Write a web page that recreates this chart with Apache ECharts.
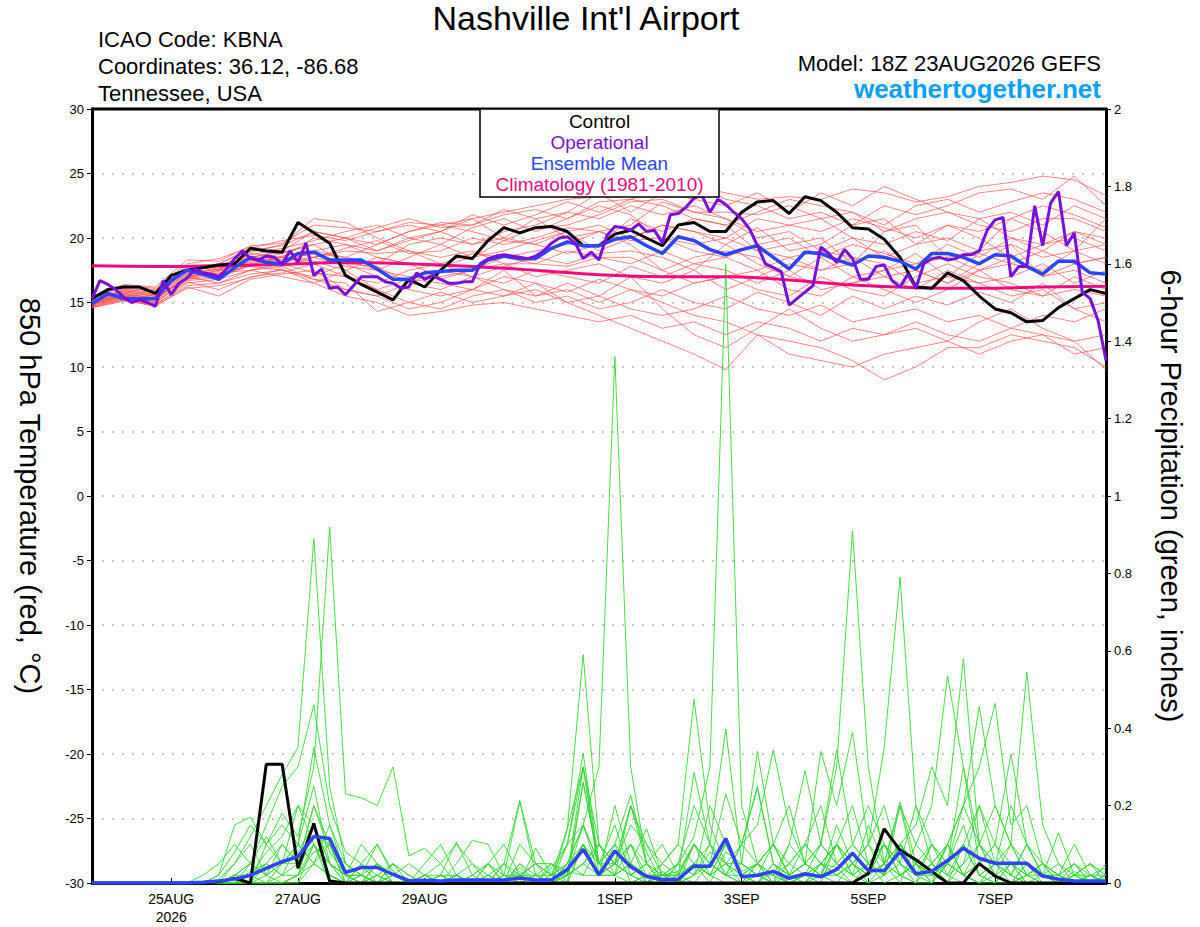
<!DOCTYPE html>
<html><head><meta charset="utf-8">
<script src="https://cdn.jsdelivr.net/npm/echarts@6/dist/echarts.min.js"></script>
<style>html,body{margin:0;padding:0;background:#fff}#c{width:1200px;height:927px}</style>
</head><body><div id="c"></div>
<script>
// x axis: forecast hour from 18Z 23AUG2026
const tickHours = [30, 78, 126, 198, 246, 294, 342];
const tickLabels = ['25AUG\n2026', '27AUG', '29AUG', '1SEP', '3SEP', '5SEP', '7SEP'];

// 850 hPa temperature (C), 6-hourly, h0 then one row per day
const controlTemp = [15.3,
 16.0,16.2,16.2,15.7, 17.1,17.5,17.7,17.9, 18.0,19.2,19.0,18.9, 21.2,20.4,19.6,17.1,
 16.4,15.8,15.2,16.8, 16.2,17.5,18.6,18.4, 19.8,20.8,20.4,20.8, 20.9,20.5,19.4,19.4,
 20.3,20.6,20.0,19.4, 21.0,21.2,20.5,20.5, 22.0,22.8,22.9,21.9, 23.2,22.9,22.0,20.8,
 20.7,19.9,18.5,16.2, 16.1,17.3,16.7,15.5, 14.5,14.2,13.5,13.6, 14.6,15.3,16.0,15.7];
const meanTemp = [14.9,
 15.7,15.3,15.3,15.3, 16.7,17.5,17.2,16.8, 17.7,18.5,18.1,18.0, 18.8,18.9,18.3,18.3,
 18.3,17.6,16.8,16.8, 17.3,17.4,17.5,17.5, 18.3,18.6,18.4,18.4, 19.2,19.7,19.4,19.4,
 19.9,20.1,19.4,18.8, 20.1,19.8,19.1,18.7, 19.1,19.4,18.5,17.6, 18.9,18.8,18.3,17.9,
 18.6,18.5,18.2,17.6, 18.8,18.8,18.5,18.0, 18.7,18.6,17.8,17.2, 18.2,18.2,17.3,17.2];
// operational, 3-hourly
const operationalTemp = [15.3,
 16.7,16.4,16.0,15.4,15.0,15.2,15.0,14.7,
 16.7,15.6,16.5,16.9,17.6,17.3,17.2,17.0,
 17.6,18.4,19.0,18.4,18.3,18.6,18.5,18.0,
 19.0,18.1,19.6,17.1,17.6,16.1,16.2,15.6,
 16.3,17.0,17.0,17.0,16.6,16.5,16.1,16.2,
 17.3,16.8,17.1,16.8,16.5,16.5,16.6,16.6,
 18.0,18.4,18.6,18.7,18.6,18.5,18.4,18.6,
 19.0,19.6,20.0,20.1,19.6,18.4,18.9,18.3,
 20.2,20.9,20.8,20.6,21.1,20.5,20.6,19.6,
 21.8,21.9,22.4,23.1,23.3,22.0,23.0,22.6,
 22.0,21.5,20.7,19.4,18.0,17.7,17.4,14.8,
 15.3,15.8,16.3,19.3,18.8,18.1,19.1,18.4,
 16.8,16.8,17.8,17.9,16.7,16.2,17.2,16.1,
 18.0,18.4,18.5,18.3,18.4,18.7,18.7,19.0,
 20.6,21.4,21.6,17.0,17.8,17.8,22.5,19.4,
 22.7,23.6,19.4,20.4,15.8,15.3,13.6,10.5];
// climatology, daily
const climTemp = [17.85,17.8,17.85,17.95,18.1,18.0,17.8,17.5,17.15,17.0,17.0,16.75,16.35,16.15,16.1,16.2,16.25];
// ensemble members, 12-hourly
const memberTemp = [
 [15.3,16.4,16.2,18.3,18.2,19.4,19.6,21.0,20.8,20.5,21.2,21.0,21.5,22.0,22.5,23.0,23.2,23.5,24.2,24.0,23.5,23.0,23.2,23.0,23.8,23.5,22.8,23.2,24.0,24.3,24.8,24.5,23.3],
 [15.0,16.0,15.8,17.8,18.0,19.0,19.4,20.5,20.0,19.5,20.5,21.2,21.0,21.8,22.2,21.5,22.8,23.0,23.8,24.3,23.0,22.5,21.5,22.0,21.0,22.5,21.8,22.5,23.5,23.8,23.0,24.8,22.5],
 [14.8,15.6,15.2,17.0,17.5,18.3,18.0,19.0,18.5,18.0,19.5,20.0,19.5,20.5,21.0,22.0,21.5,22.5,21.8,22.5,21.5,20.5,21.0,20.5,21.5,20.8,20.0,21.0,20.5,21.5,22.5,21.8,20.8],
 [15.2,15.8,15.5,17.5,17.8,18.5,19.0,18.5,19.2,19.8,18.8,19.0,20.0,19.5,20.0,20.8,20.5,21.0,22.8,22.0,22.0,21.8,22.5,21.5,20.0,19.5,20.5,19.8,21.5,20.0,19.5,20.5,20.0],
 [15.0,15.5,15.0,16.8,17.0,18.0,18.5,18.0,18.3,17.5,18.5,19.5,18.5,19.0,19.8,20.5,19.0,20.0,21.0,20.5,19.5,20.8,19.0,19.5,21.0,21.5,19.5,20.0,19.0,21.5,20.5,19.0,21.5],
 [14.7,15.3,14.8,16.5,16.8,17.5,18.0,17.3,17.0,16.5,17.5,18.0,18.8,18.5,19.0,19.5,20.5,19.8,20.0,19.0,18.5,19.5,20.0,18.5,19.5,18.8,18.0,19.5,18.5,20.0,19.0,20.5,19.5],
 [15.5,16.2,16.0,17.8,17.5,18.8,18.5,20.0,19.5,18.5,18.0,17.8,18.5,19.8,19.5,18.8,19.5,21.5,20.5,21.5,21.0,19.0,18.5,17.5,18.0,20.5,21.0,18.5,17.5,18.0,19.0,18.0,18.5],
 [14.9,15.4,15.3,16.8,17.2,17.8,17.5,17.0,18.0,17.8,16.5,17.5,17.0,17.8,18.5,18.0,18.8,19.0,18.5,17.5,19.5,18.0,17.0,18.5,17.0,17.5,18.8,17.0,18.8,18.0,17.5,19.0,18.0],
 [15.1,15.9,15.6,17.3,17.6,18.7,19.2,19.8,20.5,21.0,20.0,19.5,20.8,21.5,20.5,21.5,22.5,21.8,20.0,19.5,20.0,19.0,19.5,20.0,18.0,19.0,17.5,16.5,18.0,19.5,17.0,17.5,16.5],
 [14.6,15.2,14.9,16.3,16.5,17.2,17.5,16.8,16.0,15.5,16.5,16.0,17.0,16.5,17.5,17.0,16.5,17.8,17.0,18.0,17.5,16.5,17.5,16.0,16.5,17.0,16.0,17.5,16.5,17.0,18.0,16.5,17.5],
 [15.0,15.6,15.4,17.0,17.4,18.2,18.8,19.5,18.0,17.0,16.0,15.5,16.0,17.0,16.5,15.8,16.8,16.0,15.5,16.5,17.0,17.5,16.0,15.5,17.0,16.0,15.0,16.0,17.5,16.0,15.5,17.0,16.0],
 [14.8,15.3,15.0,16.6,16.0,17.0,17.3,18.0,17.0,16.0,15.0,14.5,15.5,16.0,15.0,15.5,14.5,15.0,16.0,15.0,14.5,15.8,15.0,14.0,15.5,14.5,15.5,14.8,15.8,15.0,16.5,14.5,15.0],
 [15.2,15.7,15.5,17.2,17.0,18.0,17.8,16.8,16.5,14.3,15.0,15.8,15.0,15.5,16.0,15.0,15.5,14.5,14.0,14.5,15.5,14.5,14.0,14.8,13.5,14.0,14.5,13.5,14.0,13.0,14.0,13.5,14.5],
 [14.9,15.5,15.2,16.9,17.3,17.5,17.0,16.5,15.5,15.0,14.0,14.3,14.8,15.0,14.5,14.0,13.5,14.0,13.0,13.5,12.5,13.5,13.0,12.0,13.0,12.5,13.5,12.5,12.0,13.0,12.5,12.0,12.5],
 [15.1,16.0,15.8,17.6,17.8,18.9,19.5,21.5,21.2,20.0,19.0,18.0,17.0,16.0,15.5,16.0,15.0,16.0,15.0,14.0,13.5,12.5,11.0,10.5,10.0,11.0,11.5,12.0,11.0,12.0,12.5,11.0,11.5],
 [14.7,15.2,14.7,16.2,15.5,16.8,17.2,17.5,16.0,15.5,14.5,15.0,16.0,15.5,16.5,15.0,14.0,13.0,12.0,11.0,9.8,12.5,12.0,11.5,10.5,9.0,10.0,11.5,11.5,12.5,12.0,11.5,10.0],
 [15.3,16.1,15.9,17.5,18.0,19.2,19.8,20.2,19.8,20.5,21.0,20.5,21.8,21.0,21.8,22.8,22.0,23.0,22.5,21.5,21.0,22.0,23.0,22.5,22.0,21.0,22.5,23.0,22.0,22.8,23.5,23.0,22.0],
 [15.0,15.7,15.3,17.1,17.6,18.4,18.2,18.5,19.0,18.8,19.0,18.5,19.0,18.0,18.0,19.0,18.5,18.0,19.0,18.0,18.5,17.5,18.5,19.0,20.0,18.5,19.5,21.0,20.0,18.5,19.5,20.0,19.0],
 [14.8,15.4,15.1,16.7,16.9,17.9,18.6,19.0,19.5,19.0,19.8,20.5,19.5,20.0,21.5,20.0,20.5,19.5,17.5,16.5,17.0,16.0,15.5,17.0,16.0,15.5,17.0,18.0,17.0,16.5,15.5,16.0,15.5],
 [15.2,15.9,15.7,17.4,17.2,18.6,18.3,18.8,18.5,19.5,20.5,21.0,20.5,19.8,20.8,21.0,21.8,22.8,23.0,22.0,21.5,20.0,20.5,19.0,18.5,18.0,16.5,17.0,16.5,15.5,16.0,14.5,13.5],
 [14.9,15.5,15.3,16.9,17.5,18.1,18.5,18.2,17.5,18.5,18.0,17.0,17.5,18.0,17.0,17.5,18.0,17.0,16.5,17.5,16.0,17.0,18.0,17.5,18.5,17.0,17.5,16.5,17.5,18.5,17.0,18.0,18.5],
 [15.4,16.3,16.1,18.0,18.4,19.3,19.0,20.5,20.0,20.8,21.5,20.8,21.0,22.2,21.5,22.0,23.5,22.0,23.5,23.0,22.5,23.5,22.0,23.5,22.5,24.0,23.0,22.0,21.5,22.0,21.0,22.5,21.5],
 [14.6,15.1,14.8,16.1,16.3,16.9,17.6,16.5,17.5,16.0,16.8,16.5,16.0,17.5,15.5,16.5,15.5,17.0,14.5,12.5,11.5,13.0,14.5,13.0,12.0,12.5,13.0,12.0,13.5,14.5,13.0,12.0,9.8],
 [15.0,15.8,15.6,17.2,17.7,18.5,18.9,19.5,20.0,19.0,20.0,20.5,21.5,20.0,19.5,20.5,21.0,20.0,21.0,20.5,20.0,21.5,21.0,21.5,22.0,20.5,21.5,22.0,21.0,20.5,21.5,21.5,20.5],
 [15.1,15.6,15.4,17.0,16.5,17.5,17.8,18.5,17.8,17.5,17.0,16.8,17.5,18.5,18.0,17.8,18.5,18.5,17.5,18.5,19.0,18.5,17.0,16.5,16.5,17.5,18.0,18.5,19.0,19.5,18.5,19.0,19.5]
];

// 6-hour precipitation (inches), 6-hourly, h0 then one row per day
const controlPrecip = [0,
 0,0,0,0, 0,0,0,0.003, 0.012,0,0.307,0.307, 0.038,0.154,0.005,0,
 0,0,0,0, 0,0,0,0, 0,0,0,0, 0,0,0,0,
 0,0,0,0, 0,0,0,0, 0,0,0,0, 0,0,0,0,
 0.025,0.14,0.085,0.06, 0.03,0,0,0.05, 0.018,0,0,0, 0,0,0,0];
const meanPrecip = [0,
 0,0,0,0, 0,0,0.002,0.005, 0.01,0.02,0.038,0.055, 0.068,0.12,0.115,0.027,
 0.04,0.04,0.022,0.006, 0.007,0.005,0.008,0.008, 0.008,0.008,0.013,0.008, 0.008,0.035,0.087,0.021,
 0.083,0.042,0.017,0.009, 0.01,0.044,0.043,0.115, 0.016,0.02,0.03,0.012, 0.024,0.016,0.035,0.077,
 0.032,0.032,0.081,0.024, 0.03,0.058,0.09,0.064, 0.051,0.051,0.051,0.018, 0.01,0.005,0.005,0.005];
const memberPrecip = [
 [0, 0,0,0,0, 0,0,0,0.01, 0.05,0.12,0.2,0.28, 0.35,0.89,0.25,0.05, 0.02,0,0,0, 0,0,0,0, 0,0,0.05,0.02, 0,0.1,0.3,0.05, 0.02,0.2,0.05,0, 0,0.1,0.05,0.02, 0,0.05,0,0, 0.02,0,0.1,0.2, 0.05,0,0.02,0, 0.1,0.05,0.15,0.02, 0,0.05,0,0, 0,0,0,0],
 [0, 0,0,0,0, 0,0,0,0.02, 0.08,0.15,0.1,0.18, 0.12,0.3,0.92,0.23, 0.22,0.2,0.3,0.07, 0.09,0.05,0.1,0.05, 0,0.02,0,0, 0,0.02,0.05,0.1, 0.05,0.1,0,0.02, 0.03,0.1,0.02,0, 0,0.02,0,0.05, 0.1,0.05,0.04,0, 0.05,0.1,0.02,0.05, 0.02,0,0.05,0.1, 0.02,0,0.05,0.02, 0,0.03,0,0],
 [0, 0,0,0,0, 0,0,0.02,0.05, 0.1,0.05,0.15,0.25, 0.3,0.46,0.2,0.08, 0.05,0.1,0.03,0, 0,0,0.02,0, 0.05,0,0.03,0, 0,0.05,0.15,0.3, 1.36,0.3,0.05,0, 0,0.02,0.08,0.05, 0,0,0.03,0, 0,0.02,0,0.05, 0.1,0.2,0.05,0, 0,0.05,0.1,0.02, 0,0,0.02,0, 0,0,0,0],
 [0, 0,0,0,0, 0,0,0,0.02, 0.15,0.17,0.1,0.05, 0.1,0.35,0.15,0.02, 0,0.05,0.02,0, 0,0,0.02,0.05, 0.02,0,0.04,0, 0,0.03,0.1,0.02, 0.05,0.2,0.08,0, 0.05,0.12,0.3,1.6, 0.2,0.05,0.02,0, 0,0.05,0.1,0.02, 0,0.05,0,0.1, 0.05,0.02,0,0.05, 0.1,0.05,0,0, 0,0,0.02,0],
 [0, 0,0,0,0, 0,0,0,0, 0.02,0.05,0.02,0.1, 0.05,0.2,0.1,0, 0,0.02,0.05,0, 0.02,0,0,0, 0,0.05,0.02,0, 0,0.14,0.59,0.1, 0.02,0.05,0,0.03, 0,0.05,0.02,0.1, 0.03,0.05,0.1,0.02, 0.05,0.1,0.3,0.91, 0.3,0.05,0.1,0.02, 0,0.05,0.02,0, 0.02,0.1,0.05,0, 0,0,0,0],
 [0, 0,0,0,0, 0,0,0,0, 0,0.02,0.08,0.12, 0.2,0.15,0.05,0.02, 0.1,0.05,0,0, 0,0.02,0,0.02, 0,0,0.1,0.05, 0.02,0,0.26,0.05, 0.1,0.05,0.02,0, 0.02,0.05,0,0.08, 0.05,0.02,0,0.1, 0.05,0.02,0.15,0.05, 0.1,0.35,0.79,0.2, 0.05,0.1,0.02,0, 0.05,0,0.02,0.05, 0,0.02,0,0],
 [0, 0,0,0,0, 0,0,0,0, 0,0,0.05,0.02, 0.1,0.05,0.15,0.05, 0.02,0,0.05,0.02, 0,0.02,0,0.01, 0,0.05,0,0.02, 0.05,0.02,0.3,0.02, 0.05,0.15,0.1,0.05, 0.1,0.475,0.15,0.05, 0.02,0,0.05,0.02, 0.1,0.05,0.02,0.05, 0,0.02,0.1,0.15, 0.3,0.2,0.58,0.1, 0.05,0.2,0.1,0.02, 0,0.02,0.05,0],
 [0, 0,0,0,0, 0,0,0,0, 0.02,0.05,0.12,0.05, 0.1,0.25,0.05,0, 0.05,0,0.02,0.05, 0.02,0,0.02,0, 0.05,0.1,0.02,0.05, 0,0.05,0.15,0.02, 0.2,0.05,0.02,0, 0.05,0.2,0.1,0.02, 0,0.05,0.02,0.05, 0.1,0.2,0.05,0.1, 0.05,0.02,0.2,0.1, 0.2,0.535,0.3,0.1, 0.2,0.1,0.545,0.15, 0.05,0,0.02,0],
 [0, 0,0,0,0, 0,0,0,0, 0,0,0,0, 0,0.1,0.05,0, 0,0.02,0,0, 0.05,0.1,0.02,0, 0,0.02,0.21,0.05, 0.02,0.02,0.15,0.05, 0.15,0.02,0,0.05, 0.02,0.1,0.05,0.23, 0.1,0.25,0.05,0.02, 0.05,0.34,0.2,0.39, 0.1,0.02,0.05,0.2, 0.1,0.05,0.2,0.456, 0.2,0.1,0.02,0.05, 0.02,0,0,0],
 [0, 0,0,0,0, 0,0,0,0, 0,0.02,0,0.05, 0.08,0.15,0.02,0, 0.02,0,0,0, 0,0,0.05,0.11, 0.1,0.02,0,0.09, 0.02,0.05,0.1,0.02, 0.02,0.05,0.14,0.02, 0,0.05,0.1,0.02, 0.05,0.34,0.1,0.02, 0.02,0.05,0.1,0.02, 0.05,0.1,0.02,0.05, 0.02,0.1,0.2,0.3, 0.464,0.15,0.2,0.05, 0.02,0.05,0,0.05],
 [0, 0,0,0,0, 0,0,0,0, 0,0,0,0, 0.02,0.08,0.1,0, 0.05,0.02,0,0, 0.02,0.02,0,0, 0,0,0.02,0.05, 0.05,0.03,0.02,0.1, 0.05,0.02,0.05,0.02, 0.02,0.1,0.05,0.02, 0.1,0.05,0.02,0.1, 0.29,0.1,0.05,0.02, 0.15,0.05,0.21,0.05, 0.02,0.05,0.1,0.2, 0.1,0.333,0.1,0.02, 0.05,0.02,0.05,0.02],
 [0, 0,0,0,0, 0,0,0,0, 0,0,0.02,0.05, 0.05,0.1,0.05,0.02, 0,0.05,0,0, 0,0,0,0.02, 0.05,0,0,0.02, 0,0.02,0.05,0.1, 0.05,0.1,0.05,0.02, 0.05,0.02,0.1,0.05, 0.1,0.15,0.344,0.15, 0.05,0.1,0.344,0.1, 0.05,0.02,0.1,0.05, 0,0.05,0.02,0.1, 0.02,0,0.05,0.02, 0,0.05,0,0.02],
 [0, 0,0,0,0, 0,0,0,0, 0,0.03,0.05,0.02, 0.05,0.2,0.08,0.02, 0.02,0.05,0,0, 0,0,0.02,0, 0,0,0.05,0, 0.04,0.1,0.335,0.05, 0.1,0.227,0.05,0, 0.02,0,0.05,0.1, 0.02,0.05,0,0, 0,0.05,0.02,0, 0.02,0.05,0.1,0.02, 0.05,0.1,0.02,0, 0,0.05,0.02,0.05, 0.02,0,0,0.02],
 [0, 0,0,0,0, 0,0,0,0, 0.02,0,0.1,0.15, 0.1,0.05,0.02,0, 0,0.02,0,0, 0.02,0.05,0,0, 0,0,0.02,0, 0.02,0.14,0.3,0.1, 0.05,0.02,0,0.02, 0.02,0.285,0.1,0.398, 0.05,0.02,0.02,0, 0.02,0.02,0.05,0.1, 0.2,0.1,0.02,0.05, 0,0.1,0.02,0.05, 0.1,0.02,0,0, 0,0,0.02,0],
 [0, 0,0,0,0, 0,0,0,0, 0,0,0,0, 0.02,0.05,0.02,0, 0,0,0.02,0, 0,0.02,0.02,0, 0.02,0.05,0.213,0.02, 0,0.02,0.26,0.05, 0.02,0.1,0.02,0.05, 0.1,0.05,0.02,0.05, 0.02,0.05,0.1,0.02, 0,0.05,0.02,0.05, 0.1,0.05,0.2,0.02, 0.05,0.02,0.1,0.02, 0.05,0.02,0.1,0.05, 0.02,0,0.02,0],
 [0, 0,0,0,0, 0,0,0,0, 0,0,0,0.02, 0.02,0.1,0.02,0, 0.02,0,0,0, 0,0.02,0.106,0.02, 0.05,0.02,0,0, 0.05,0,0.1,0.02, 0.05,0.02,0.05,0.1, 0.02,0.1,0.05,0.02, 0.1,0.245,0.05,0.02, 0.05,0.02,0.1,0.05, 0.02,0.05,0.02,0.05, 0.1,0.02,0.05,0.2, 0.05,0.1,0.02,0, 0,0.02,0,0.02],
 [0, 0,0,0,0, 0,0,0,0, 0.05,0.1,0.02,0.05, 0.2,0.1,0,0, 0,0,0.05,0.02, 0,0,0,0, 0.02,0,0.02,0.05, 0.02,0.1,0.15,0.05, 0.05,0.2,0.1,0.02, 0.05,0.02,0.2,0.1, 0.02,0.05,0.1,0.2, 0.05,0.02,0.1,0.05, 0.02,0.1,0.05,0.02, 0.1,0.05,0.3,0.05, 0.02,0,0.02,0.05, 0,0.02,0.02,0],
 [0, 0,0,0,0, 0,0,0,0, 0.02,0.02,0.05,0.1, 0.05,0.12,0.1,0.05, 0.02,0.1,0.02,0, 0,0,0,0, 0.02,0,0,0, 0,0.02,0.05,0.02, 0.02,0.05,0.02,0.02, 0.02,0.05,0.02,0.05, 0.05,0.02,0.1,0.05, 0.02,0.1,0.05,0.02, 0.05,0.02,0.1,0.05, 0.02,0.1,0.2,0.1, 0.05,0.02,0.1,0.02, 0.13,0.02,0.05,0.02],
 [0, 0,0,0,0, 0,0,0,0, 0,0.05,0.02,0, 0.02,0.15,0.05,0.02, 0.02,0,0,0, 0,0,0,0, 0,0,0,0, 0,0,0.1,0.05, 0.02,0,0.02,0, 0,0.05,0.02,0.1, 0.02,0,0.05,0, 0.02,0.05,0.1,0.05, 0.02,0.05,0.02,0, 0.05,0,0.1,0.02, 0.05,0.02,0,0.02, 0.02,0.05,0.02,0.04],
 [0, 0,0,0,0, 0,0,0,0, 0,0,0,0, 0,0.05,0.1,0.02, 0,0.05,0.02,0, 0.02,0,0,0, 0,0.02,0.02,0.02, 0.02,0.05,0.02,0.02, 0.1,0,0.02,0.02, 0,0.02,0.05,0.02, 0.02,0.02,0,0.02, 0.05,0.02,0.02,0.05, 0.02,0.1,0.05,0.02, 0.02,0.05,0.02,0.05, 0.02,0.05,0.02,0.02, 0.02,0.1,0.02,0.02]
];

const COL = {control:'#000000', oper:'#7a0fdc', mean:'#2a44ff', clim:'#ee0a80', member:'#ff4a4a', precip:'#33d633', site:'#0aa0ff'};
const FONT = '"Liberation Sans", Arial, sans-serif';

function withHours(arr, step) { return arr.map((v, i) => [i * step, v]); }

const series = [];
memberTemp.forEach(m => series.push({type:'line', data: withHours(m, 12), yAxisIndex:0, symbol:'none', silent:true,
  lineStyle:{color:COL.member, width:0.8, opacity:0.85}, z:1}));
memberPrecip.forEach(m => series.push({type:'line', data: withHours(m, 6), yAxisIndex:1, symbol:'none', silent:true,
  lineStyle:{color:COL.precip, width:0.9}, z:2}));
series.push({type:'line', data: withHours(climTemp, 24), yAxisIndex:0, symbol:'none', smooth:0.4, lineStyle:{color:COL.clim, width:3}, z:3});
series.push({type:'line', data: withHours(controlTemp, 6), yAxisIndex:0, symbol:'none', lineStyle:{color:COL.control, width:3}, z:4});
series.push({type:'line', data: withHours(meanTemp, 6), yAxisIndex:0, symbol:'none', lineStyle:{color:COL.mean, width:3.5}, z:5});
series.push({type:'line', data: withHours(operationalTemp, 3), yAxisIndex:0, symbol:'none', lineStyle:{color:COL.oper, width:3}, z:6});
series.push({type:'line', data: withHours(controlPrecip, 6), yAxisIndex:1, symbol:'none', lineStyle:{color:COL.control, width:3}, z:4});
series.push({type:'line', data: withHours(meanPrecip, 6), yAxisIndex:1, symbol:'none', lineStyle:{color:COL.mean, width:3.5}, z:5});

const legendItems = [['Control', COL.control], ['Operational', COL.oper], ['Ensemble Mean', COL.mean], ['Climatology (1981-2010)', COL.clim]];

const chart = echarts.init(document.getElementById('c'), null, {renderer:'svg'});
const option = {
  animation:false,
  backgroundColor:'#fff',
  grid:{left:92, right:94, top:109, bottom:44, show:true, borderColor:'#000', borderWidth:2, backgroundColor:'transparent'},
  xAxis:{type:'value', min:0, max:384,
    axisLine:{onZero:false, lineStyle:{color:'#000', width:3}},
    axisTick:{inside:true, length:5, customValues:tickHours, lineStyle:{color:'#000'}},
    axisLabel:{customValues:tickHours, color:'#000', fontSize:14, fontFamily:FONT, margin:7, lineHeight:18,
      formatter:v => { const i = tickHours.indexOf(v); return i >= 0 ? tickLabels[i] : ''; }},
    splitLine:{show:false}},
  yAxis:[
    {type:'value', min:-30, max:30, interval:5, position:'left',
     name:'850 hPa Temperature (red, °C)', nameLocation:'middle', nameRotate:-90, nameGap:48,
     nameTextStyle:{fontSize:29, fontFamily:FONT, color:'#000'},
     axisLine:{show:true, lineStyle:{color:'#000', width:3}},
     axisTick:{show:true, length:5, lineStyle:{color:'#000'}},
     axisLabel:{color:'#000', fontSize:13, fontFamily:FONT, margin:8},
     splitLine:{show:true, lineStyle:{color:'#b4b4b4', type:[2,8], width:1.5}}},
    {type:'value', min:0, max:2, interval:0.2, position:'right',
     name:'6-hour Precipitation (green, inches)', nameLocation:'middle', nameRotate:-90, nameGap:50,
     nameTextStyle:{fontSize:29, fontFamily:FONT, color:'#000'},
     axisLine:{show:true, lineStyle:{color:'#000', width:3}},
     axisTick:{show:true, length:5, lineStyle:{color:'#000'}},
     axisLabel:{color:'#000', fontSize:13, fontFamily:FONT, margin:8},
     splitLine:{show:false}}
  ],
  series: series,
  graphic:[
    {type:'line', z:90, shape:{x1:91, y1:109, x2:1107, y2:109}, style:{stroke:'#000', lineWidth:3}},
    {type:'text', x:586, y:18, style:{text:"Nashville Int'l Airport", font:'34px ' + FONT, fill:'#000', align:'center', verticalAlign:'middle'}},
    {type:'text', x:98, y:39, style:{text:'ICAO Code: KBNA', font:'22px ' + FONT, fill:'#000', align:'left', verticalAlign:'middle'}},
    {type:'text', x:98, y:66, style:{text:'Coordinates: 36.12, -86.68', font:'22px ' + FONT, fill:'#000', align:'left', verticalAlign:'middle'}},
    {type:'text', x:98, y:93, style:{text:'Tennessee, USA', font:'22px ' + FONT, fill:'#000', align:'left', verticalAlign:'middle'}},
    {type:'text', x:1101, y:63, style:{text:'Model: 18Z 23AUG2026 GEFS', font:'22px ' + FONT, fill:'#000', align:'right', verticalAlign:'middle'}},
    {type:'text', x:1101, y:89, style:{text:'weathertogether.net', font:'bold 26px ' + FONT, fill:COL.site, align:'right', verticalAlign:'middle'}},
    {type:'rect', z:100, shape:{x:480, y:109, width:239, height:88}, style:{fill:'#fff', stroke:'#000', lineWidth:1.5}},
  ].concat(legendItems.map((it, i) => ({type:'text', z:101, x:599.5, y:121 + i * 21.3,
      style:{text:it[0], font:'19px ' + FONT, fill:it[1], align:'center', verticalAlign:'middle'}})))
};
chart.setOption(option);
</script>
</body></html>
